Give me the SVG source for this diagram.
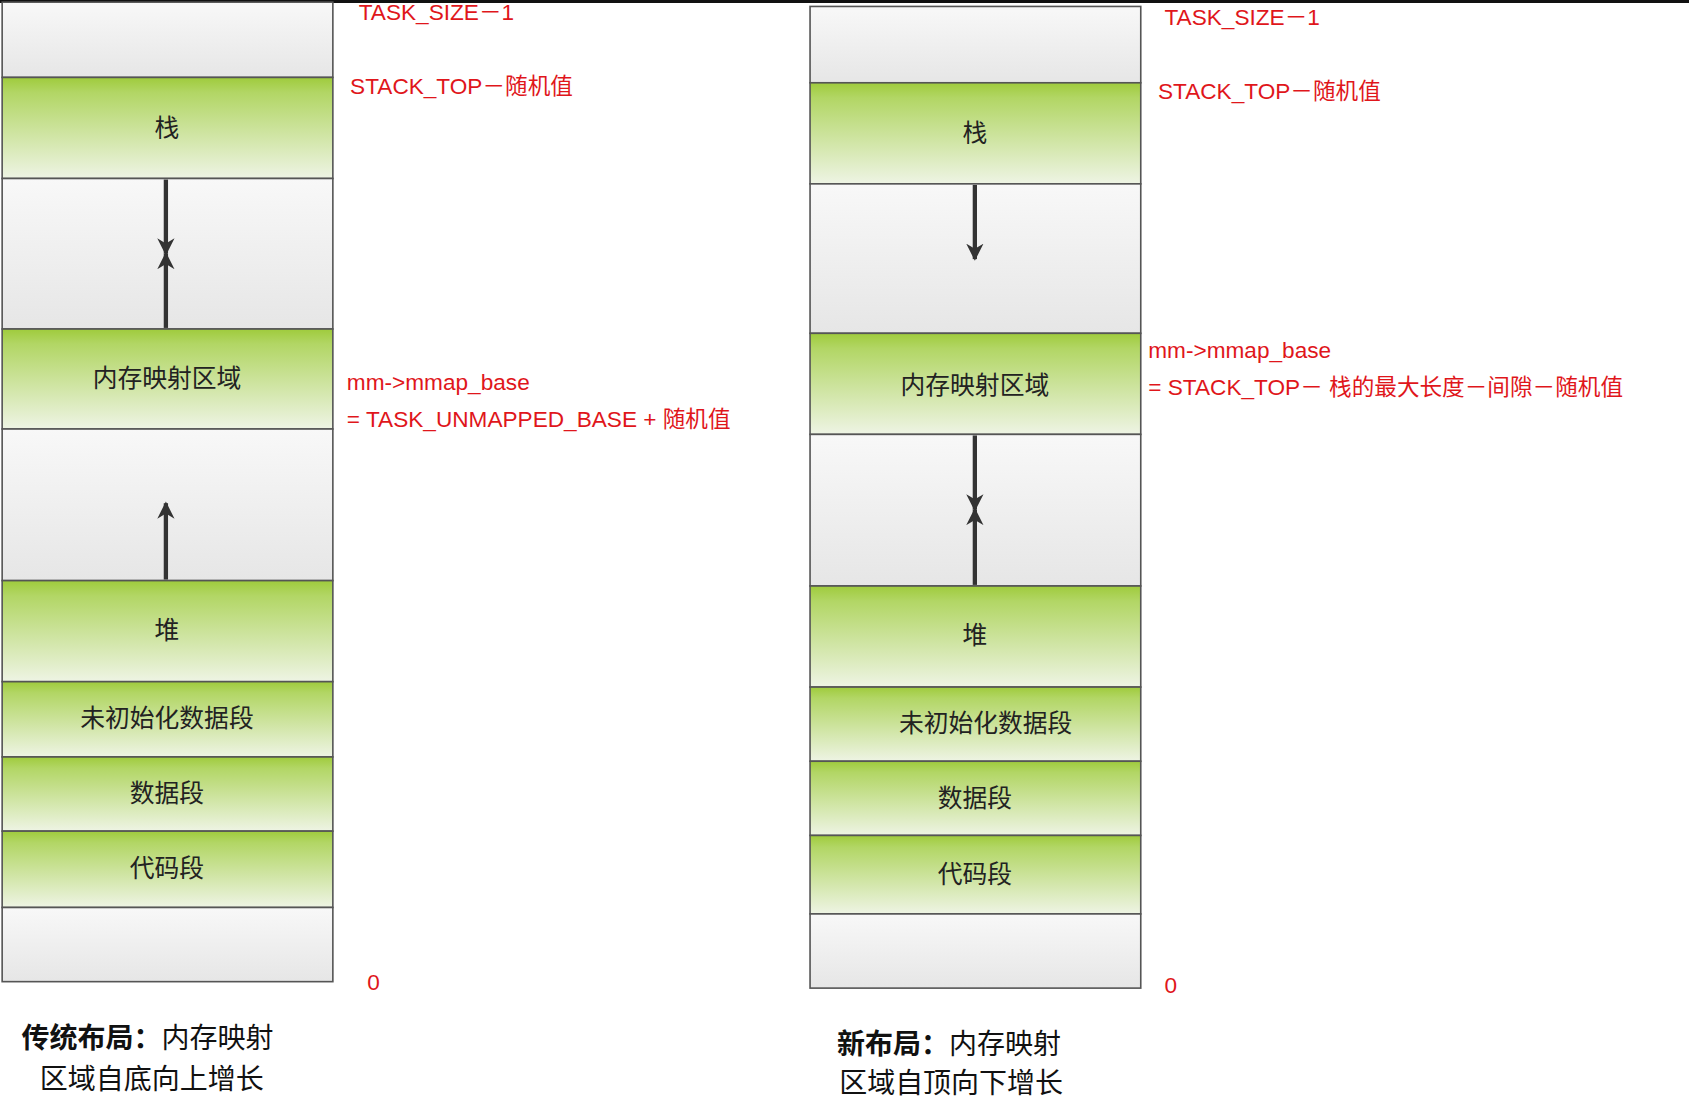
<svg xmlns="http://www.w3.org/2000/svg" width="1689" height="1101" viewBox="0 0 1689 1101">
<defs>
<linearGradient id="g" x1="0" y1="0" x2="0" y2="1"><stop offset="0" stop-color="#9fcb3c"/><stop offset="0.15" stop-color="#b2d665"/><stop offset="1" stop-color="#eef4e4"/></linearGradient>
<linearGradient id="w" x1="0" y1="0" x2="0" y2="1"><stop offset="0" stop-color="#f8f8f8"/><stop offset="1" stop-color="#e6e6e6"/></linearGradient>
<marker id="a" viewBox="0 0 10 10" refX="9" refY="5" markerWidth="4" markerHeight="5" orient="auto"><path d="M0,0 L10,5 L0,10 L3,5 z" fill="#333"/></marker>
<style>
.g{fill:url(#g);stroke:#555;stroke-width:1.5}
.w{fill:url(#w);stroke:#555;stroke-width:1.5}
.t{font-family:"Noto Sans CJK SC","Liberation Sans",sans-serif;font-size:23px;fill:#222;text-anchor:middle}
.r{font-family:"Liberation Sans","Noto Sans CJK SC",sans-serif;font-size:21px;fill:#e0161b}
.c{font-family:"Noto Sans CJK SC",sans-serif;font-size:26px;fill:#111}
.ar{stroke:#333;stroke-width:4;fill:none;marker-end:url(#a)}
</style>
</defs>
<rect width="1689" height="1101" fill="#fff"/>
<rect width="1689" height="3" fill="#111"/>
<g transform="scale(1.0772 1.0752)">
<g id="left">
<rect class="w" x="2" y="2" width="307" height="70"/>
<rect class="g" x="2" y="72" width="307" height="94"/><text class="t" x="155" y="127">栈</text>
<rect class="w" x="2" y="166" width="307" height="140"/>
<rect class="g" x="2" y="306" width="307" height="93"/><text class="t" x="155" y="360">内存映射区域</text>
<rect class="w" x="2" y="399" width="307" height="141"/>
<rect class="g" x="2" y="540" width="307" height="94"/><text class="t" x="155" y="594">堆</text>
<rect class="g" x="2" y="634" width="307" height="70"/><text class="t" x="155" y="676">未初始化数据段</text>
<rect class="g" x="2" y="704" width="307" height="69"/><text class="t" x="155" y="746">数据段</text>
<rect class="g" x="2" y="773" width="307" height="71"/><text class="t" x="155" y="816">代码段</text>
<rect class="w" x="2" y="844" width="307" height="69"/>
</g>
<g id="right">
<rect class="w" x="752" y="6" width="307" height="71"/>
<rect class="g" x="752" y="77" width="307" height="94"/><text class="t" x="905" y="132">栈</text>
<rect class="w" x="752" y="171" width="307" height="139"/>
<rect class="g" x="752" y="310" width="307" height="94"/><text class="t" x="905" y="366">内存映射区域</text>
<rect class="w" x="752" y="404" width="307" height="141"/>
<rect class="g" x="752" y="545" width="307" height="94"/><text class="t" x="905" y="599">堆</text>
<rect class="g" x="752" y="639" width="307" height="69"/><text class="t" x="915" y="681">未初始化数据段</text>
<rect class="g" x="752" y="708" width="307" height="69"/><text class="t" x="905" y="751">数据段</text>
<rect class="g" x="752" y="777" width="307" height="73"/><text class="t" x="905" y="821">代码段</text>
<rect class="w" x="752" y="850" width="307" height="69"/>
</g>
<g id="connectors">
<line class="ar" x1="154" y1="167" x2="154" y2="236"/>
<line class="ar" x1="154" y1="305" x2="154" y2="236"/>
<line class="ar" x1="154" y1="539" x2="154" y2="468"/>
<line class="ar" x1="905" y1="172" x2="905" y2="241"/>
<line class="ar" x1="905" y1="405" x2="905" y2="474"/>
<line class="ar" x1="905" y1="544" x2="905" y2="474"/>
</g>
<g id="labels">
<text class="r" x="333" y="19">TASK_SIZE－1</text>
<text class="r" x="325" y="87">STACK_TOP－随机值</text>
<text class="r" x="322" y="363">mm-&gt;mmap_base</text>
<text class="r" x="322" y="397">= TASK_UNMAPPED_BASE + 随机值</text>
<text class="r" x="341" y="921">0</text>
<text class="r" x="1081" y="23">TASK_SIZE－1</text>
<text class="r" x="1075" y="92">STACK_TOP－随机值</text>
<text class="r" x="1066" y="333">mm-&gt;mmap_base</text>
<text class="r" x="1066" y="367">= STACK_TOP－ 栈的最大长度－间隙－随机值</text>
<text class="r" x="1081" y="924">0</text>
</g>
<g id="captions">
<text class="c" x="20" y="975"><tspan font-weight="bold">传统布局：</tspan>内存映射</text>
<text class="c" x="37" y="1013">区域自底向上增长</text>
<text class="c" x="777" y="980"><tspan font-weight="bold">新布局：</tspan>内存映射</text>
<text class="c" x="779" y="1017">区域自顶向下增长</text>
</g>
</g>
</svg>
